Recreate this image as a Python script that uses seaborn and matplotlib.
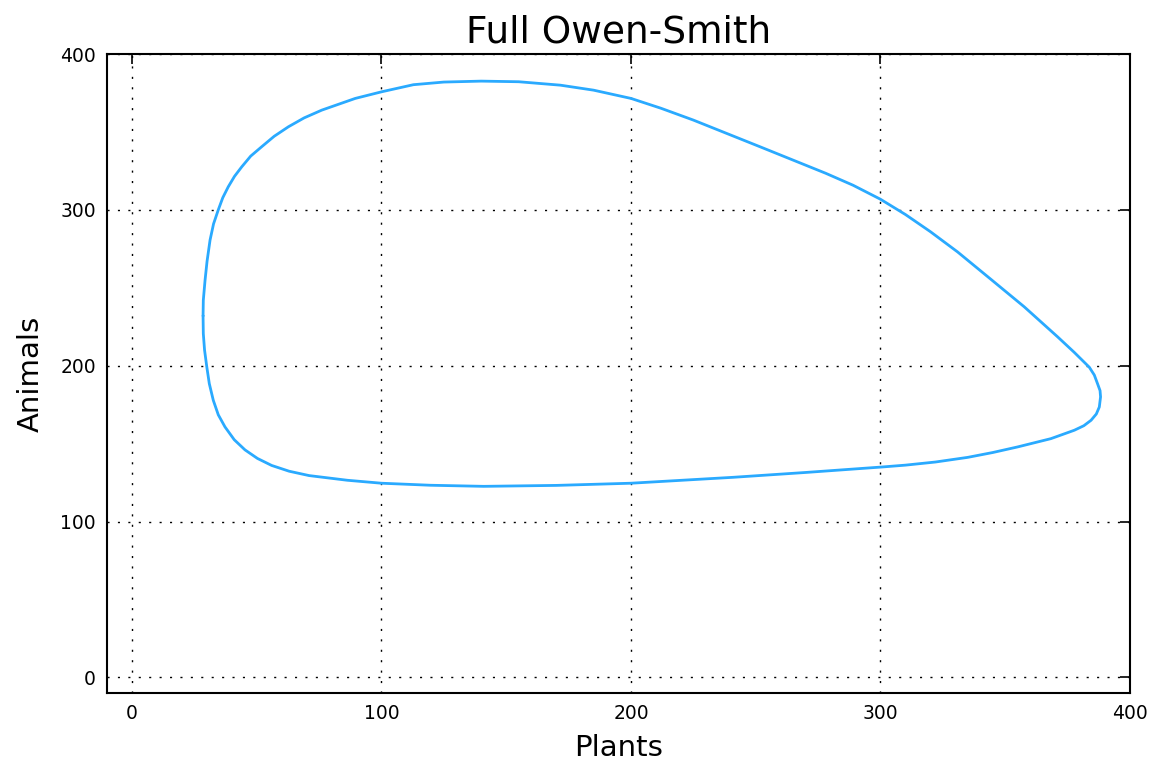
import matplotlib
matplotlib.use("Agg")
import matplotlib.pyplot as plt
import seaborn as sns
import pandas as pd

# Phase-plane trajectory of the Owen-Smith plant/animal model (one closed cycle)
plants = [28.5, 28.6, 29.3, 30.1, 31.3, 32.7, 34.6, 36.4, 38.6, 41.1, 44.0,
          47.6, 52.0, 57.0, 62.7, 69.0, 76.1, 89.5, 100.2, 112.8, 125.0, 140.0,
          155.0, 171.7, 185.0, 200.0, 212.0, 225.0, 252.0, 278.0, 289.0, 300.0,
          310.0, 320.0, 330.9, 344.2, 357.6, 371.0, 377.7, 383.7, 385.7, 387.0,
          388.0, 388.2, 387.7, 386.5, 384.4, 381.5, 377.7, 368.3, 355.0, 345.0,
          335.0, 322.0, 310.0, 300.5, 270.0, 241.0, 200.0, 170.0, 141.0, 119.6,
          100.0, 86.3, 71.0, 63.0, 56.0, 50.3, 45.3, 41.0, 37.3, 34.6, 32.6,
          31.0, 30.0, 29.1, 28.6, 28.5]
animals = [232.0, 242.0, 254.9, 267.0, 280.6, 291.0, 300.0, 307.8, 314.8,
           321.5, 327.6, 334.5, 340.5, 347.2, 353.3, 359.0, 364.0, 371.5, 375.8,
           380.3, 382.0, 382.6, 382.2, 380.0, 376.8, 371.5, 365.2, 357.6, 340.3,
           323.5, 315.8, 306.8, 297.0, 286.0, 273.0, 255.5, 237.8, 218.5, 208.5,
           199.0, 194.0, 188.4, 184.0, 180.0, 173.5, 169.0, 165.0, 161.5, 158.6,
           153.2, 147.9, 144.3, 141.2, 138.2, 136.2, 135.0, 131.5, 128.4, 124.6,
           123.2, 122.6, 123.3, 124.6, 126.5, 129.5, 132.3, 136.0, 140.5, 146.0,
           152.5, 160.7, 168.5, 177.8, 188.5, 199.2, 210.0, 220.6, 232.0]

ticks = [0, 100, 200, 300, 400]

sns.set_style("white")
plt.rcParams["font.family"] = ["DejaVu Sans"]
plt.rcParams["text.color"] = "black"
plt.rcParams["axes.labelcolor"] = "black"

df = pd.DataFrame({"Plants": plants, "Animals": animals})

fig = plt.figure(figsize=(11.55, 7.64), dpi=100)
ax = fig.add_axes([107 / 1155, 1 - 693 / 764, (1130 - 107) / 1155, (693 - 54) / 764])

sns.lineplot(data=df, x="Plants", y="Animals", sort=False, estimator=None,
             color="#2aaaff", linewidth=2.0, ax=ax)

ax.set_xlim(-10, 400)
ax.set_ylim(-10, 400)
ax.set_xticks(ticks)
ax.set_yticks(ticks)
ax.grid(True, color="black", linestyle=(0, (1.5, 6)), linewidth=1.0)
ax.tick_params(direction="in", length=7, width=1.2, top=True, right=True,
               labelsize=13.5, colors="black", pad=8)
for sp in ax.spines.values():
    sp.set_color("black")
    sp.set_linewidth(1.5)

ax.set_title("Full Owen-Smith", fontsize=27, pad=8, color="black")
ax.set_xlabel("Plants", fontsize=21, labelpad=8)
ax.set_ylabel("Animals", fontsize=21, labelpad=11)

fig.savefig("out.png", dpi=100)
